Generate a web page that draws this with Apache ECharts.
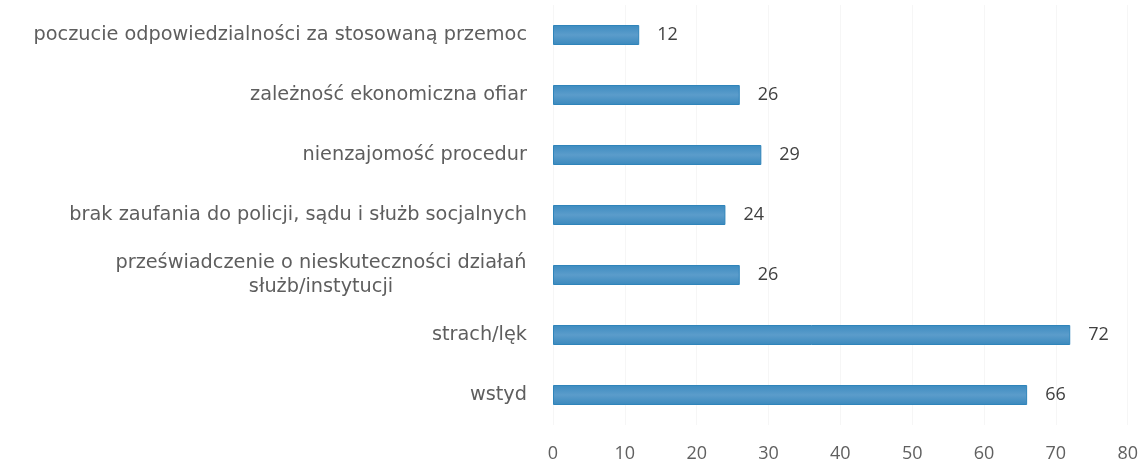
<!DOCTYPE html>
<html>
<head>
<meta charset="utf-8">
<script src="https://cdn.jsdelivr.net/npm/echarts@6/dist/echarts.min.js"></script>
<style>
  html, body { margin: 0; padding: 0; background: #fff; }
  #chart { width: 1141px; height: 464px; }
</style>
</head>
<body>
<div id="chart"></div>
<script>
// Reasons for not reporting violence (listed top to bottom)
const categories = [
  'poczucie odpowiedzialności za stosowaną przemoc',
  'zależność ekonomiczna ofiar',
  'nienzajomość procedur',
  'brak zaufania do policji, sądu i służb socjalnych',
  'przeświadczenie o nieskuteczności działań\nsłużb/instytucji',
  'strach/lęk',
  'wstyd'
];
const values = [12, 26, 29, 24, 26, 72, 66];
const xTicks = [0, 10, 20, 30, 40, 50, 60, 70, 80];

const chart = echarts.init(document.getElementById('chart'), null, { renderer: 'canvas' });
const numFont = '"Open Sans", "Noto Sans", sans-serif';
const catFont = '"DejaVu Sans", "Open Sans", sans-serif';
const catSize = 19.3;
const catColor = '#5e5e5e';

// Width of the widest line of a wrapped category, so its lines centre on each other
function lineWidth(text) {
  return echarts.format.getTextRect
    ? echarts.format.getTextRect(text, catSize + 'px ' + catFont).width
    : 412;
}

chart.setOption({
  animation: false,
  grid: { left: 553, right: 12, top: 5, bottom: 39, containLabel: false },
  xAxis: {
    type: 'value',
    min: xTicks[0],
    max: xTicks[xTicks.length - 1],
    interval: 10,
    axisLine: { show: false },
    axisTick: { show: false },
    splitLine: { show: true, lineStyle: { color: '#f6f6f6', width: 1 } },
    axisLabel: { color: '#606060', fontSize: 18, fontFamily: numFont, margin: 20 }
  },
  yAxis: {
    type: 'category',
    inverse: true,
    data: categories,
    axisLine: { show: false },
    axisTick: { show: false },
    axisLabel: {
      color: catColor, fontSize: catSize, fontFamily: catFont,
      margin: 26, align: 'right', lineHeight: 24,
      formatter: function (v) {
        if (v.indexOf('\n') < 0) return v;
        const lines = v.split('\n');
        return lines.map(l => '{c|' + l + '}').join('\n');
      },
      rich: {
        c: {
          width: Math.ceil(Math.max.apply(null,
            categories.filter(c => c.indexOf('\n') >= 0)
              .map(c => Math.max.apply(null, c.split('\n').map(lineWidth))))),
          align: 'center',
          color: catColor, fontSize: catSize, fontFamily: catFont, lineHeight: 24
        }
      }
    }
  },
  series: [{
    type: 'bar',
    data: values,
    barWidth: 20,
    itemStyle: {
      color: new echarts.graphic.LinearGradient(0, 0, 0, 1, [
        { offset: 0, color: '#3d8cc0' },
        { offset: 0.5, color: '#5b9ccb' },
        { offset: 1, color: '#3a89bd' }
      ]),
      borderColor: '#2f84ba',
      borderWidth: 1
    },
    label: {
      show: true,
      position: 'right',
      distance: 18,
      color: '#404040',
      fontSize: 18,
      fontFamily: numFont
    }
  }]
});
</script>
</body>
</html>
